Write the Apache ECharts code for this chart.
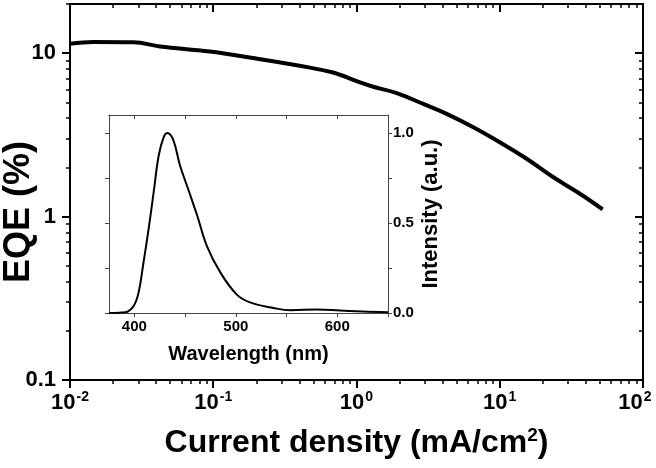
<!DOCTYPE html>
<html><head><meta charset="utf-8">
<script src="https://cdn.jsdelivr.net/npm/echarts@6/dist/echarts.min.js"></script>
<style>html,body{margin:0;padding:0;background:#fff}#c{width:656px;height:468px}</style>
</head><body><div id="c"></div>
<script>
// Main plot data: EQE vs current density
const currentDensity = [0.01, 0.0146, 0.0277, 0.0425, 0.0948, 0.212, 0.473, 0.686, 0.767, 1.06, 1.31, 1.91, 2.93, 4.26, 6.54, 10, 15.4, 23.7, 36.3, 52.3];
const eqe = [11.44, 11.72, 11.67, 11.0, 10.23, 9.19, 8.16, 7.62, 7.38, 6.62, 6.23, 5.70, 4.89, 4.25, 3.52, 2.85, 2.26, 1.74, 1.38, 1.107];
// Inset data: EL spectrum
const wavelength = [375, 385, 391, 399, 404, 409, 414, 419, 424, 429, 432.6, 438.5, 445, 453, 462, 471.5, 485, 501, 514, 537, 554, 580, 603, 625, 650];
const intensity = [0.0, 0.002, 0.004, 0.037, 0.11, 0.28, 0.465, 0.67, 0.875, 0.978, 1.0, 0.959, 0.819, 0.689, 0.54, 0.372, 0.223, 0.102, 0.059, 0.028, 0.015, 0.02, 0.014, 0.008, 0.004];
// Tick values
const xMajorTicks = [0.01, 0.1, 1, 10, 100];
const xMinorTicks = [0.02,0.03,0.04,0.05,0.06,0.07,0.08,0.09, 0.2,0.3,0.4,0.5,0.6,0.7,0.8,0.9, 2,3,4,5,6,7,8,9, 20,30,40,50,60,70,80,90];
const yMajorTicks = [0.1, 1, 10];
const yLabelText = ['0.1', '1', '10'];
const yMinorTicks = [0.2,0.3,0.4,0.5,0.6,0.7,0.8,0.9, 2,3,4,5,6,7,8,9, 20];
const xExponents = ['-2', '-1', '0', '1', '2'];
const insetXLabels = [400, 500, 600];
const insetXTicks = [400, 450, 500, 550, 600, 650];
const insetYLabels = [0, 0.5, 1.0];
const insetYTicks = [0, 0.25, 0.5, 0.75, 1.0];

const FF = '"Liberation Sans", Arial, sans-serif';
const BLK = '#000';

function ax(base, extra) { return Object.assign({}, base, extra); }
const common = { splitLine: { show: false }, nameMoveOverlap: false };

const mainXBase = { gridIndex: 0, type: 'log', logBase: 10, min: 0.01, max: 100, ...common };
const mainYBase = { gridIndex: 0, type: 'log', logBase: 10, min: 0.1, max: 20, ...common };
const insetXBase = { gridIndex: 1, type: 'value', min: 375, max: 650, ...common };
const insetYBase = { gridIndex: 1, type: 'value', min: 0, max: 1.1, ...common };

const mainLine = { show: true, onZero: false, lineStyle: { color: BLK, width: 2 } };
const insetLine = { show: true, onZero: false, lineStyle: { color: '#444', width: 1 } };
const hiddenLine = { show: false, onZero: false };

const supStyle = { fontSize: 14, fontWeight: 'bold', fontFamily: FF, color: BLK, lineHeight: 24, verticalAlign: 'top' };

const option = {
  animation: false,
  backgroundColor: '#fff',
  grid: [
    { left: 70, top: 4, right: 13, bottom: 88, containLabel: false, outerBoundsMode: 'none' },
    { left: 109, top: 115, right: 268, bottom: 155, containLabel: false, outerBoundsMode: 'none', show: true, backgroundColor: '#fff', borderWidth: 0 }
  ],
  xAxis: [
    ax(mainXBase, { position: 'bottom', axisLine: mainLine,
      axisTick: { show: true, inside: false, length: 8, customValues: xMajorTicks, lineStyle: { color: BLK, width: 2 } },
      axisLabel: { show: true, customValues: xMajorTicks, margin: 10,
        formatter: function (v) {
          const i = xMajorTicks.indexOf(v);
          return '{b|10}{' + (i === xMajorTicks.length - 1 ? 'sl' : 's') + '|' + xExponents[i] + '}';
        },
        rich: { b: { fontSize: 22, fontWeight: 'bold', fontFamily: FF, color: BLK, lineHeight: 24, verticalAlign: 'bottom' },
                s: Object.assign({}, supStyle, { padding: [0, 0, 0, 1] }),
                sl: Object.assign({}, supStyle, { padding: [0, 16, 0, 1] }) } },
      name: 'Current density (mA/cm{s|2})', nameLocation: 'middle', nameGap: 46,
      nameTextStyle: { fontSize: 32, fontWeight: 'bold', fontFamily: FF, color: BLK,
        rich: { s: { fontSize: 19, fontWeight: 'bold', fontFamily: FF, color: BLK, verticalAlign: 'top', lineHeight: 34 } } } }),
    ax(mainXBase, { position: 'bottom', axisLine: hiddenLine,
      axisTick: { show: true, inside: false, length: 4, customValues: xMinorTicks, lineStyle: { color: BLK, width: 1.5 } },
      axisLabel: { show: false } }),
    ax(mainXBase, { position: 'top', axisLine: mainLine,
      axisTick: { show: true, inside: true, length: 8, customValues: xMajorTicks, lineStyle: { color: BLK, width: 2 } },
      axisLabel: { show: false } }),
    ax(mainXBase, { position: 'top', axisLine: hiddenLine,
      axisTick: { show: true, inside: true, length: 4, customValues: xMinorTicks, lineStyle: { color: BLK, width: 1.5 } },
      axisLabel: { show: false } }),
    ax(insetXBase, { position: 'bottom', axisLine: insetLine,
      axisTick: { show: true, inside: false, length: 4, customValues: insetXTicks, lineStyle: { color: '#444', width: 1 } },
      axisLabel: { show: true, customValues: insetXLabels, margin: 6, fontSize: 15, fontWeight: 'bold', fontFamily: FF, color: BLK },
      name: 'Wavelength (nm)', nameLocation: 'middle', nameGap: 31,
      nameTextStyle: { fontSize: 20, fontWeight: 'bold', fontFamily: FF, color: BLK } }),
    ax(insetXBase, { position: 'top', axisLine: insetLine,
      axisTick: { show: true, inside: true, length: 4, customValues: insetXTicks, lineStyle: { color: '#444', width: 1 } },
      axisLabel: { show: false } })
  ],
  yAxis: [
    ax(mainYBase, { position: 'left', axisLine: mainLine,
      axisTick: { show: true, inside: false, length: 8, customValues: yMajorTicks, lineStyle: { color: BLK, width: 2 } },
      axisLabel: { show: true, customValues: yMajorTicks, margin: 14, fontSize: 22, fontWeight: 'bold', fontFamily: FF, color: BLK,
        formatter: function (v) { return yLabelText[yMajorTicks.indexOf(v)]; } },
      name: 'EQE (%)', nameLocation: 'middle', nameGap: 33, nameRotate: 90,
      nameTextStyle: { fontSize: 36, fontWeight: 'bold', fontFamily: FF, color: BLK, padding: [0, 40, 0, 0] } }),
    ax(mainYBase, { position: 'left', axisLine: hiddenLine,
      axisTick: { show: true, inside: false, length: 4, customValues: yMinorTicks, lineStyle: { color: BLK, width: 1.5 } },
      axisLabel: { show: false } }),
    ax(mainYBase, { position: 'right', axisLine: mainLine,
      axisTick: { show: true, inside: true, length: 8, customValues: yMajorTicks, lineStyle: { color: BLK, width: 2 } },
      axisLabel: { show: false } }),
    ax(mainYBase, { position: 'right', axisLine: hiddenLine,
      axisTick: { show: true, inside: true, length: 4, customValues: yMinorTicks, lineStyle: { color: BLK, width: 1.5 } },
      axisLabel: { show: false } }),
    ax(insetYBase, { position: 'right', axisLine: insetLine,
      axisTick: { show: true, inside: false, length: 4, customValues: insetYTicks, lineStyle: { color: '#444', width: 1 } },
      axisLabel: { show: true, customValues: insetYLabels, margin: 5, fontSize: 15, fontWeight: 'bold', fontFamily: FF, color: BLK,
        formatter: function (v) { return v.toFixed(1); } },
      name: 'Intensity (a.u.)', nameLocation: 'middle', nameGap: 32, nameRotate: 90,
      nameTextStyle: { fontSize: 22, fontWeight: 'bold', fontFamily: FF, color: BLK } }),
    ax(insetYBase, { position: 'left', axisLine: insetLine,
      axisTick: { show: true, inside: false, length: 4, customValues: insetYTicks, lineStyle: { color: '#444', width: 1 } },
      axisLabel: { show: false } })
  ],
  series: [
    { type: 'line', xAxisIndex: 0, yAxisIndex: 0, showSymbol: false, smooth: 0.4,
      lineStyle: { color: BLK, width: 4 }, data: currentDensity.map((x, i) => [x, eqe[i]]) },
    { type: 'line', xAxisIndex: 4, yAxisIndex: 4, showSymbol: false, smooth: 0.4,
      lineStyle: { color: BLK, width: 2 }, data: wavelength.map((x, i) => [x, intensity[i]]) }
  ]
};
const chart = echarts.init(document.getElementById('c'), null, { renderer: 'canvas' });
chart.setOption(option);
</script></body></html>
